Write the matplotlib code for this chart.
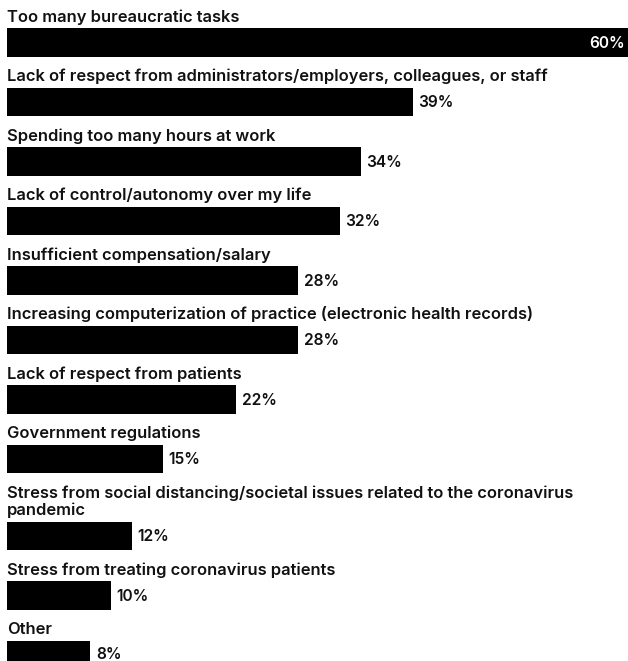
import matplotlib
matplotlib.use("Agg")
import matplotlib.pyplot as plt

categories = [
    "Too many bureaucratic tasks",
    "Lack of respect from administrators/employers, colleagues, or staff",
    "Spending too many hours at work",
    "Lack of control/autonomy over my life",
    "Insufficient compensation/salary",
    "Increasing computerization of practice (electronic health records)",
    "Lack of respect from patients",
    "Government regulations",
    "Stress from social distancing/societal issues related to the coronavirus\npandemic",
    "Stress from treating coronavirus patients",
    "Other",
]
values = [60, 39, 34, 32, 28, 28, 22, 15, 12, 10, 8]
value_labels = ["60%", "39%", "34%", "32%", "28%", "28%", "22%", "15%", "12%", "10%", "8%"]

W, H = 628, 661
DPI = 100
LEFT_PX = 7
PX_PER_PCT = 10.4

fig = plt.figure(figsize=(W / DPI, H / DPI), dpi=DPI)
fig.patch.set_facecolor("white")
ax = fig.add_axes([0, 0, 1, 1])
ax.set_xlim(-LEFT_PX / PX_PER_PCT, (W - LEFT_PX) / PX_PER_PCT)
ax.set_ylim(H, 0)
ax.axis("off")

FONT = "Inter"
FS = 11.9
VFS = 11.2
bar_h = 28.5
pitch = 59.5
line_gap = 17.5
label_gap = 6.5

top = 28.3
for cat, v, lab in zip(categories, values, value_labels):
    lines = cat.split("\n")
    extra = (len(lines) - 1) * line_gap
    top += extra
    for i, ln in enumerate(lines):
        base = top - label_gap - (len(lines) - 1 - i) * line_gap
        ax.text(0, base, ln, ha="left", va="baseline", fontsize=FS,
                family=FONT, weight="semibold", color="#111111")
    yc = top + bar_h / 2
    ax.barh(yc, v, height=bar_h, left=0, color="black", edgecolor="none")
    ty = min(yc + 0.8, H - 6.5)
    if v >= 50:
        ax.text(v - 0.6, ty, lab, ha="right", va="center", fontsize=VFS,
                family=FONT, weight="semibold", color="white")
    else:
        ax.text(v + 0.55, ty, lab, ha="left", va="center", fontsize=VFS,
                family=FONT, weight="semibold", color="#111111")
    top += pitch

fig.savefig("out.png", dpi=DPI, facecolor="white")
